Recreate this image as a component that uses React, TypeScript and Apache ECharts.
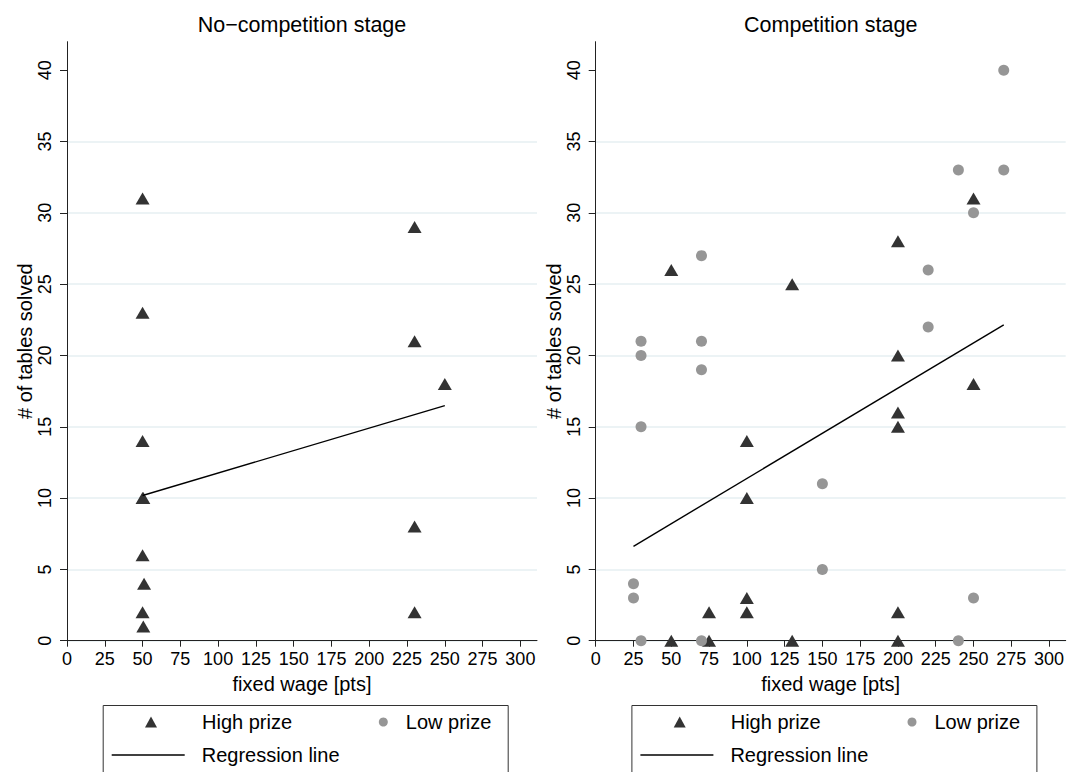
import React, { useEffect, useRef } from 'react';
import * as echarts from 'echarts';

// ---- data ----
const xTicks = [0, 25, 50, 75, 100, 125, 150, 175, 200, 225, 250, 275, 300];
const yTicks = [0, 5, 10, 15, 20, 25, 30, 35, 40];

// No-competition stage
const noCompHighX = [50, 50, 50, 50, 50.5, 50, 51, 50, 50.5, 230, 230, 230, 230, 250];
const noCompHighY = [31, 23, 14, 10, 10, 6, 4, 2, 1, 29, 21, 8, 2, 18];
const noCompRegX = [50, 250];
const noCompRegY = [10.18, 16.48];

// Competition stage
const compHighX = [50, 50, 75, 75, 100, 100, 100, 100, 130, 130, 200, 200, 200, 200, 200, 200, 250, 250];
const compHighY = [26, 0, 2, 0, 14, 10, 3, 2, 25, 0, 28, 20, 16, 15, 2, 0, 31, 18];
const compLowX = [25, 25, 30, 30, 30, 30, 70, 70, 70, 70, 150, 150, 220, 220, 240, 240, 250, 250, 270, 270];
const compLowY = [4, 3, 21, 20, 15, 0, 27, 21, 19, 0, 11, 5, 26, 22, 33, 0, 30, 3, 40, 33];
const compRegX = [25, 270];
const compRegY = [6.62, 22.15];

const zip = (xs: number[], ys: number[]) => xs.map((x, i) => [x, ys[i]]);

const FONT = '"Liberation Sans", Arial, Helvetica, sans-serif';
const HIGH_COLOR = '#333333';
const LOW_COLOR = '#969696';

export default function App() {
  const ref = useRef<HTMLDivElement>(null);

  useEffect(() => {
    if (!ref.current) return;
    const chart = echarts.init(ref.current, null, { renderer: 'svg' });

    const gridLeft = [67, 595.7];
    const gridW = 470;

    const xAxis = (gridIndex: number) => ({
      type: 'value',
      gridIndex,
      min: 0,
      max: 311,
      interval: 25,
      name: 'fixed wage [pts]',
      nameLocation: 'middle',
      nameGap: 33,
      nameTextStyle: { fontSize: 20, color: '#000', fontFamily: FONT },
      axisLine: { show: true, onZero: false, lineStyle: { color: '#222', width: 1 } },
      axisTick: { show: true, length: 6, customValues: xTicks, lineStyle: { color: '#222', width: 1 } },
      axisLabel: { customValues: xTicks, fontSize: 18, color: '#000', margin: 9, fontFamily: FONT },
      splitLine: { show: false },
    });

    const yAxis = (gridIndex: number) => ({
      type: 'value',
      gridIndex,
      min: 0,
      max: 42,
      interval: 5,
      name: '# of tables solved',
      nameLocation: 'middle',
      nameRotate: 90,
      nameGap: 30,
      nameTextStyle: { fontSize: 20, color: '#000', fontFamily: FONT },
      axisLine: { show: true, onZero: false, lineStyle: { color: '#222', width: 1 } },
      axisTick: { show: true, length: 7, customValues: yTicks, lineStyle: { color: '#222', width: 1 } },
      axisLabel: { customValues: yTicks, rotate: 90, fontSize: 18, color: '#000', margin: 13, fontFamily: FONT },
      splitLine: { show: true, showMaxLine: false, lineStyle: { color: '#e6eff2', width: 1.5 } },
    });

    const legendText = (padLeft: number) => ({
      fontSize: 20,
      color: '#000',
      fontFamily: FONT,
      padding: [0, 0, 0, padLeft],
    });

    const legends = (dx: number) => [
      {
        left: 145 + dx, top: 712, padding: 0, itemWidth: 12, itemHeight: 11, selectedMode: false, z: 10,
        data: [{ name: 'High prize', icon: 'triangle' }], textStyle: legendText(40),
      },
      {
        left: 378.8 + dx, top: 712, padding: 0, itemWidth: 9, itemHeight: 9, selectedMode: false, z: 10,
        data: [{ name: 'Low prize', icon: 'circle' }], textStyle: legendText(13),
      },
      {
        left: 111.7 + dx, top: 745, padding: 0, itemWidth: 73, itemHeight: 1.5, selectedMode: false, z: 10,
        data: [{ name: 'Regression line', icon: 'rect' }], textStyle: legendText(12),
      },
    ];

    const dx = gridLeft[1] - gridLeft[0];

    const option = {
      animation: false,
      backgroundColor: '#fff',
      textStyle: { fontFamily: FONT },
      title: [
        { text: 'No\u2212competition stage', left: gridLeft[0] + gridW / 2 - 5, top: 9, textAlign: 'center',
          textStyle: { fontSize: 21.5, fontWeight: 'normal', color: '#000', fontFamily: FONT } },
        { text: 'Competition stage', left: gridLeft[1] + gridW / 2 - 5, top: 9, textAlign: 'center',
          textStyle: { fontSize: 21.5, fontWeight: 'normal', color: '#000', fontFamily: FONT } },
      ],
      grid: [
        { left: gridLeft[0], top: 41.7, width: gridW, height: 599, containLabel: false },
        { left: gridLeft[1], top: 41.7, width: gridW, height: 599, containLabel: false },
      ],
      xAxis: [xAxis(0), xAxis(1)],
      yAxis: [yAxis(0), yAxis(1)],
      legend: [...legends(0), ...legends(dx)],
      graphic: [
        { type: 'rect', left: 102.7, top: 705, shape: { width: 405, height: 90 }, style: { fill: '#fff', stroke: '#333', lineWidth: 1 }, z: 0 },
        { type: 'rect', left: 102.7 + dx, top: 705, shape: { width: 405, height: 90 }, style: { fill: '#fff', stroke: '#333', lineWidth: 1 }, z: 0 },
      ],
      series: [
        { name: 'High prize', type: 'scatter', xAxisIndex: 0, yAxisIndex: 0, symbol: 'triangle', symbolSize: [14, 12],
          itemStyle: { color: HIGH_COLOR, opacity: 1 }, data: zip(noCompHighX, noCompHighY), z: 3 },
        { name: 'Regression line', type: 'line', xAxisIndex: 0, yAxisIndex: 0, symbol: 'none',
          lineStyle: { color: '#000', width: 1.4 }, itemStyle: { color: '#000' }, data: zip(noCompRegX, noCompRegY), z: 4 },
        { name: 'High prize', type: 'scatter', xAxisIndex: 1, yAxisIndex: 1, symbol: 'triangle', symbolSize: [14, 12],
          itemStyle: { color: HIGH_COLOR, opacity: 1 }, data: zip(compHighX, compHighY), z: 3 },
        { name: 'Low prize', type: 'scatter', xAxisIndex: 1, yAxisIndex: 1, symbol: 'circle', symbolSize: 11,
          itemStyle: { color: LOW_COLOR, opacity: 1 }, data: zip(compLowX, compLowY), z: 3 },
        { name: 'Regression line', type: 'line', xAxisIndex: 1, yAxisIndex: 1, symbol: 'none',
          lineStyle: { color: '#000', width: 1.4 }, itemStyle: { color: '#000' }, data: zip(compRegX, compRegY), z: 4 },
      ],
    };

    chart.setOption(option as any);
    return () => chart.dispose();
  }, []);

  return (
    <div
      ref={ref}
      style={{ position: 'absolute', left: 0, top: 0, width: 1069, height: 772 }}
    />
  );
}
